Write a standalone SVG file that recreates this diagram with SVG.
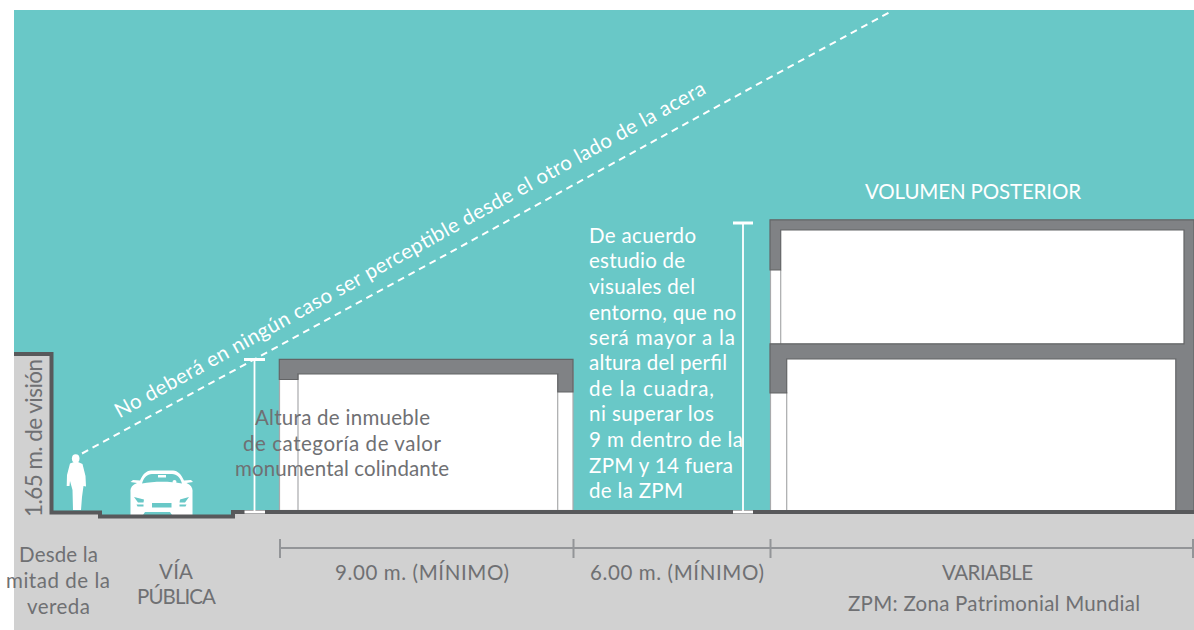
<svg xmlns="http://www.w3.org/2000/svg" width="1194" height="630" viewBox="0 0 1194 630">
<style>
text{font-family:"Lato","Liberation Sans",sans-serif;font-size:20.500px;font-weight:400;fill:#6f7073}
.w{fill:#fff}
.roof{fill:#808285;stroke:#636466;stroke-width:1.2}
.wall{fill:#fff;stroke:#a9aaac;stroke-width:1.2}
.wl{stroke:#fff;fill:none}
.dim{stroke:#939598;stroke-width:2;fill:none}
</style>
<rect width="1194" height="630" fill="#fff"/>
<rect id="sky" x="14" y="10" width="1180" height="508" fill="#69c8c7"/>
<path id="ground" d="M14 353H51.500V512.500H100V517H233V512H1194V630H14Z" fill="#d1d1d1"/>

<g id="building-front">
<rect class="wall" x="279.500" y="372" width="293.500" height="138.500"/>
<path class="wall" d="M298 374V510.500M557.700 374V510.500"/>
<path class="roof" d="M279.300 359.300H573V392H557.800V373.800H298V379.500H279.300Z"/>
</g>

<g id="building-rear">
<rect x="770" y="225" width="424" height="285.500" fill="#fff"/>
<path class="wall" d="M770.500 270V510.500M780.700 270V344M786.700 392V510.500"/>
<path class="roof" d="M770 219.800H1194V510.500H1175.800V359H786.700V392.800H770V343.800H1184V230H780.700V269.800H770Z"/>
</g>

<g id="person" fill="#fff">
<ellipse cx="75.700" cy="458.500" rx="3.800" ry="4.300"/>
<path d="M70 463.500L74 462H78L82.500 464L85.500 476L86 486.500L83.500 486L82 497L81 510H73L72.500 490L70 481L69.500 486L66.700 486L67 475Z"/>
</g>

<g id="car" fill="#fff">
<path d="M130.500 515V492C130 488 132 485 137 483L130.500 482L133 480L140 480.500C143 474 146 471 151 470.500H173C178 471 181 474 184 480.500L191 480L193 482L186.500 483C191 485 193 488 192.500 492V515Z"/>
<path fill="#69c8c7" d="M142 483.500C144 477 147 474.500 152 474H172C177 474.500 180 477 182 483.500C170 481 154 481 142 483.500Z"/>
<path fill="#fff" d="M158 475H166V477.500H158Z"/>
<circle cx="174.500" cy="482" r="2" fill="#fff"/>
<path fill="#69c8c7" d="M134 497L144 499.500L143.500 502.500L138 502.500ZM189 497L180 499.500L179.500 502.500L185 502.500ZM136.500 504.500H143.500V506.500H137.500ZM186.500 504.500H179.500V506.500H185.500ZM152 503H171.500V507.500H152ZM143 515L145 512H170L172 515Z"/>
</g>

<g id="connectors">
<path id="street-line" fill="none" stroke="#58595b" stroke-width="4" d="M14 354H51.500V512.500H100V516.500H233V512H1194"/>
<path class="wl" stroke-width="2" stroke-dasharray="7 5" d="M82 453.500L890 12"/>
<path class="wl" stroke-width="1.800" d="M254.500 359V512M743 223V512"/>
<path class="wl" stroke-width="3" d="M244 359.500H265M733 223H753M244.500 512H265M733 512H753"/>
<path class="dim" d="M280 548H1193M280 539V558M573.500 539V558M770.500 539V558M1193 539V558"/>
</g>

<g id="labels">
<text class="w" transform="translate(119.500 418.500) rotate(-29)" textLength="672">No deberá en ningún caso ser perceptible desde el otro lado de la acera</text>
<text transform="translate(42 517) rotate(-90)" textLength="158" style="font-size:22.500px">1.65 m. de visión</text>
<text class="w" x="865" y="199" textLength="216">VOLUMEN POSTERIOR</text>
<text class="w" x="589" y="243" textLength="107">De acuerdo</text>
<text class="w" x="589" y="268" textLength="96">estudio de</text>
<text class="w" x="589" y="294" textLength="106">visuales del</text>
<text class="w" x="589" y="320" textLength="147">entorno, que no</text>
<text class="w" x="589" y="345" textLength="146">será mayor a la</text>
<text class="w" x="589" y="370" textLength="138">altura del perfil</text>
<text class="w" x="589" y="396" textLength="125">de la cuadra,</text>
<text class="w" x="589" y="421" textLength="125">ni superar los</text>
<text class="w" x="589" y="447" textLength="154">9 m dentro de la</text>
<text class="w" x="589" y="473" textLength="144">ZPM y 14 fuera</text>
<text class="w" x="589" y="498" textLength="94">de la ZPM</text>
<text x="255" y="425" textLength="175">Altura de inmueble</text>
<text x="243" y="451" textLength="198">de categoría de valor</text>
<text x="235" y="476" textLength="214">monumental colindante</text>
<text x="19" y="562" textLength="79">Desde la</text>
<text x="6" y="588" textLength="104">mitad de la</text>
<text x="27" y="614" textLength="63">vereda</text>
<text x="159" y="579" textLength="34">VÍA</text>
<text x="137" y="604" textLength="79">PÚBLICA</text>
<text x="335" y="580" textLength="174">9.00 m. (MÍNIMO)</text>
<text x="590" y="580" textLength="174">6.00 m. (MÍNIMO)</text>
<text x="942" y="580" textLength="91">VARIABLE</text>
<text x="848" y="611" textLength="292">ZPM: Zona Patrimonial Mundial</text>
</g>
</svg>
